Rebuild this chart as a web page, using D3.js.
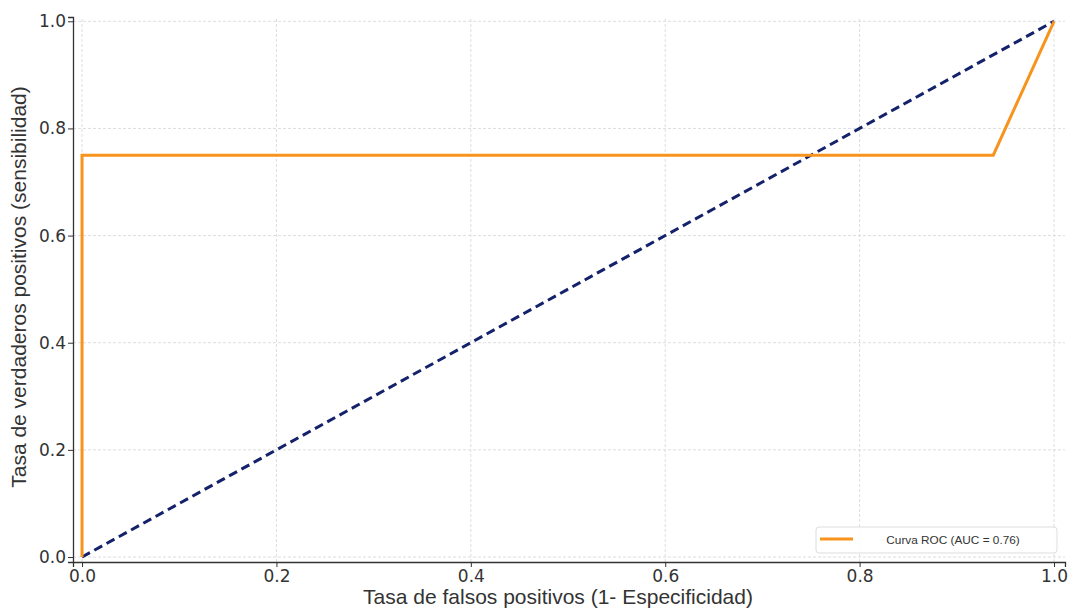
<!DOCTYPE html>
<html>
<head>
<meta charset="utf-8">
<script src="https://cdn.jsdelivr.net/npm/d3@7"></script>
<style>
  body { margin: 0; background: #fff; }
  .tick text { font-family: "DejaVu Sans", sans-serif; font-size: 17px; fill: #333; }
  .grid line { stroke: #ddd; stroke-dasharray: 3,2; }
</style>
</head>
<body>
<svg id="chart" width="1068" height="613"></svg>
<script>
// ROC curve points
var fpr = [0, 0, 0.9375, 1];
var tpr = [0, 0.75, 0.75, 1];
// reference diagonal
var diagX = [0, 1];
var diagY = [0, 1];
var ticks = [0, 0.2, 0.4, 0.6, 0.8, 1.0];
var legendLabel = "Curva ROC (AUC = 0.76)";

var svg = d3.select("#chart");

// pixel range chosen so that 0..1 maps onto the plot area
var x = d3.scaleLinear().domain([-0.0093, 1.0113]).range([73, 1065]);
var y = d3.scaleLinear().domain([-0.0093, 1.008]).range([562, 17]);

// grid
svg.append("g").attr("class", "grid")
  .selectAll("line.v").data(ticks).enter().append("line")
  .attr("x1", d => x(d)).attr("x2", d => x(d))
  .attr("y1", y.range()[0]).attr("y2", y.range()[1]);
svg.append("g").attr("class", "grid")
  .selectAll("line.h").data(ticks).enter().append("line")
  .attr("y1", d => y(d)).attr("y2", d => y(d))
  .attr("x1", x.range()[0]).attr("x2", x.range()[1]);

// axes
var xAxis = svg.append("g")
  .attr("transform", "translate(0," + y.range()[0] + ")")
  .call(d3.axisBottom(x).tickValues(ticks).tickFormat(d3.format(".1f")).tickSizeOuter(0).tickSize(5).tickPadding(3));
var yAxis = svg.append("g")
  .attr("transform", "translate(" + x.range()[0] + ",0)")
  .call(d3.axisLeft(y).tickValues(ticks).tickFormat(d3.format(".1f")).tickSizeOuter(0).tickSize(5).tickPadding(2));
[xAxis, yAxis].forEach(function (a) {
  a.select(".domain").attr("stroke", "#333").attr("stroke-width", 1.3);
  a.selectAll(".tick line").attr("stroke", "#333");
});

// diagonal
var line = d3.line().x(d => x(d[0])).y(d => y(d[1]));
svg.append("path")
  .datum(d3.zip(diagX, diagY))
  .attr("d", line)
  .attr("fill", "none")
  .attr("stroke", "#14216b")
  .attr("stroke-width", 3)
  .attr("stroke-dasharray", "9,5");

// roc curve
svg.append("path")
  .datum(d3.zip(fpr, tpr))
  .attr("d", line)
  .attr("fill", "none")
  .attr("stroke", "#f7941d")
  .attr("stroke-width", 3)
  .attr("stroke-linejoin", "miter");

// legend
var lg = svg.append("g").attr("transform", "translate(816,527)");
lg.append("rect")
  .attr("width", 241).attr("height", 26).attr("rx", 3)
  .attr("fill", "#fff").attr("fill-opacity", 0.85)
  .attr("stroke", "#ddd");
lg.append("line")
  .attr("x1", 4).attr("x2", 37).attr("y1", 12).attr("y2", 12)
  .attr("stroke", "#f7941d").attr("stroke-width", 3);
lg.append("text")
  .attr("x", 137).attr("y", 17)
  .attr("text-anchor", "middle")
  .style("font-family", "Liberation Sans, Arial, sans-serif")
  .style("font-size", "11.8px")
  .style("fill", "#333")
  .text(legendLabel);

// axis titles
svg.append("text")
  .attr("x", 558).attr("y", 604)
  .attr("text-anchor", "middle")
  .style("font-family", "Liberation Sans, Arial, sans-serif")
  .style("font-size", "21px")
  .style("fill", "#333")
  .text("Tasa de falsos positivos (1- Especificidad)");
svg.append("text")
  .attr("transform", "translate(26,287) rotate(-90)")
  .attr("text-anchor", "middle")
  .style("font-family", "Liberation Sans, Arial, sans-serif")
  .style("font-size", "21px")
  .style("fill", "#333")
  .text("Tasa de verdaderos positivos (sensibilidad)");
</script>
</body>
</html>
